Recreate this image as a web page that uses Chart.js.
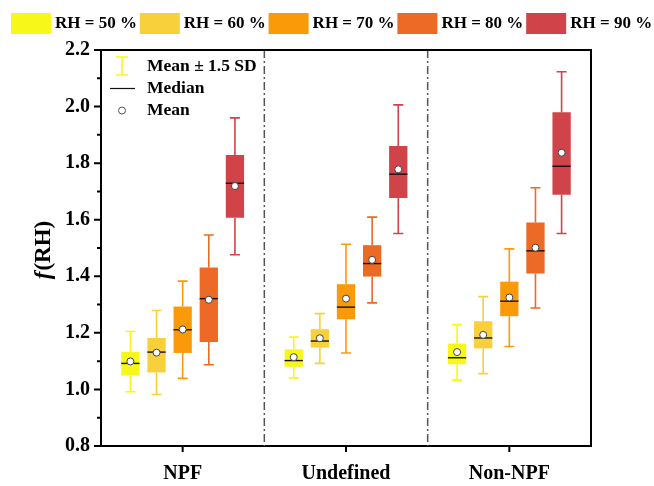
<!DOCTYPE html>
<html>
<head>
<meta charset="utf-8">
<script src="https://cdn.jsdelivr.net/npm/chart.js@4.4.1/dist/chart.umd.min.js"></script>
<style>
  html, body { margin: 0; padding: 0; background: #fff; }
  canvas { display: block; }
</style>
</head>
<body>
<canvas id="chart" width="654" height="486"></canvas>
<script>
// categories on the x axis
const categories = ['NPF', 'Undefined', 'Non-NPF'];
const rhLabels = ['RH = 50 %', 'RH = 60 %', 'RH = 70 %', 'RH = 80 %', 'RH = 90 %'];
const rhColors = ['#f8f71a', '#f8d03b', '#fa9a08', '#ec6a26', '#cf4349'];

// one row per RH level, columns follow categories
const q1 = [
  [1.049, 1.080, 1.089],
  [1.060, 1.148, 1.145],
  [1.129, 1.248, 1.259],
  [1.168, 1.399, 1.410],
  [1.607, 1.677, 1.688]
];
const q3 = [
  [1.133, 1.142, 1.162],
  [1.182, 1.213, 1.241],
  [1.293, 1.372, 1.381],
  [1.431, 1.510, 1.590],
  [1.829, 1.861, 1.980]
];
const medians = [
  [1.092, 1.102, 1.112],
  [1.132, 1.171, 1.182],
  [1.211, 1.291, 1.312],
  [1.321, 1.445, 1.490],
  [1.729, 1.761, 1.789]
];
const means = [
  [1.099, 1.114, 1.132],
  [1.130, 1.181, 1.193],
  [1.212, 1.321, 1.325],
  [1.317, 1.458, 1.501],
  [1.719, 1.778, 1.837]
];
// mean - 1.5 SD / mean + 1.5 SD
const whiskerLow = [
  [0.992, 1.041, 1.033],
  [0.982, 1.092, 1.056],
  [1.039, 1.129, 1.152],
  [1.087, 1.306, 1.288],
  [1.476, 1.551, 1.551]
];
const whiskerHigh = [
  [1.205, 1.185, 1.229],
  [1.279, 1.268, 1.328],
  [1.383, 1.513, 1.497],
  [1.546, 1.609, 1.713],
  [1.960, 2.006, 2.123]
];
const yTicks = [0.8, 1.0, 1.2, 1.4, 1.6, 1.8, 2.0, 2.2];

const serif = '"Liberation Serif", "Times New Roman", serif';

const boxExtras = {
  id: 'boxExtras',
  beforeDatasetsDraw(chart) {
    const ctx = chart.ctx, a = chart.chartArea, x = chart.scales.x;
    // dash-dot separators between the groups
    ctx.save();
    ctx.strokeStyle = '#555';
    ctx.lineWidth = 1.5;
    ctx.setLineDash([8, 3, 2, 3]);
    for (let i = 0; i < categories.length - 1; i++) {
      const px = (x.getPixelForValue(i) + x.getPixelForValue(i + 1)) / 2;
      ctx.beginPath();
      ctx.moveTo(px, a.top);
      ctx.lineTo(px, a.bottom);
      ctx.stroke();
    }
    ctx.restore();
  },
  afterDatasetsDraw(chart) {
    const ctx = chart.ctx, y = chart.scales.y;
    ctx.save();
    chart.data.datasets.forEach((ds, i) => {
      const meta = chart.getDatasetMeta(i);
      meta.data.forEach((bar, j) => {
        const cx = bar.x, half = bar.width / 2;
        const yHi = y.getPixelForValue(whiskerHigh[i][j]);
        const yLo = y.getPixelForValue(whiskerLow[i][j]);
        const yQ1 = y.getPixelForValue(q1[i][j]);
        const yQ3 = y.getPixelForValue(q3[i][j]);
        ctx.strokeStyle = rhColors[i];
        ctx.lineWidth = 1.6;
        ctx.beginPath();
        ctx.moveTo(cx, yQ3); ctx.lineTo(cx, yHi);
        ctx.moveTo(cx, yQ1); ctx.lineTo(cx, yLo);
        ctx.moveTo(cx - 5, yHi); ctx.lineTo(cx + 5, yHi);
        ctx.moveTo(cx - 5, yLo); ctx.lineTo(cx + 5, yLo);
        ctx.stroke();
        // median
        const yMed = y.getPixelForValue(medians[i][j]);
        ctx.strokeStyle = '#111';
        ctx.lineWidth = 1.4;
        ctx.beginPath();
        ctx.moveTo(cx - half, yMed); ctx.lineTo(cx + half, yMed);
        ctx.stroke();
        // mean
        const yMean = y.getPixelForValue(means[i][j]);
        ctx.fillStyle = '#fff';
        ctx.strokeStyle = '#444';
        ctx.lineWidth = 1;
        ctx.beginPath();
        ctx.arc(cx, yMean, 3.5, 0, Math.PI * 2);
        ctx.fill();
        ctx.stroke();
      });
    });
    ctx.restore();
  },
  afterDraw(chart) {
    const ctx = chart.ctx, a = chart.chartArea, x = chart.scales.x, y = chart.scales.y;
    ctx.save();
    // frame top and right
    ctx.strokeStyle = '#000';
    ctx.lineWidth = 2;
    ctx.beginPath();
    ctx.moveTo(a.left, a.top); ctx.lineTo(a.right, a.top); ctx.lineTo(a.right, a.bottom);
    ctx.stroke();
    // y ticks, major and minor
    ctx.lineWidth = 2;
    ctx.beginPath();
    yTicks.forEach((v, k) => {
      const py = y.getPixelForValue(v);
      ctx.moveTo(a.left, py); ctx.lineTo(a.left - 7, py);
      if (k < yTicks.length - 1) {
        const pm = y.getPixelForValue((v + yTicks[k + 1]) / 2);
        ctx.moveTo(a.left, pm); ctx.lineTo(a.left - 4, pm);
      }
    });
    // x ticks at group centres
    categories.forEach((c, i) => {
      const px = x.getPixelForValue(i);
      ctx.moveTo(px, a.bottom); ctx.lineTo(px, a.bottom + 6);
    });
    ctx.stroke();

    // y title f(RH)
    ctx.save();
    ctx.translate(44, (a.top + a.bottom) / 2 + 2);
    ctx.rotate(-Math.PI / 2);
    ctx.fillStyle = '#000';
    ctx.textBaseline = 'middle';
    ctx.font = 'italic bold 23px ' + serif;
    const fW = ctx.measureText('f').width;
    ctx.font = 'bold 23px ' + serif;
    const rW = ctx.measureText('(RH)').width;
    const start = -(fW + rW + 1) / 2;
    ctx.font = 'italic bold 23px ' + serif;
    ctx.fillText('f', start, 0);
    ctx.font = 'bold 23px ' + serif;
    ctx.fillText('(RH)', start + fW + 1, 0);
    ctx.restore();

    // top legend
    ctx.font = 'bold 17px ' + serif;
    ctx.textBaseline = 'middle';
    ctx.fillStyle = '#000';
    rhLabels.forEach((lab, i) => {
      const lx = 11 + i * 128.8;
      ctx.fillStyle = rhColors[i];
      ctx.fillRect(lx, 13, 40, 21);
      ctx.fillStyle = '#000';
      ctx.fillText(lab, lx + 44, 24);
    });

    // inner legend
    const ix = 122;
    ctx.strokeStyle = rhColors[0];
    ctx.lineWidth = 1.6;
    ctx.beginPath();
    ctx.moveTo(ix, 57); ctx.lineTo(ix, 75);
    ctx.moveTo(ix - 6, 57); ctx.lineTo(ix + 6, 57);
    ctx.moveTo(ix - 6, 75); ctx.lineTo(ix + 6, 75);
    ctx.stroke();
    ctx.strokeStyle = '#111';
    ctx.lineWidth = 1.2;
    ctx.beginPath();
    ctx.moveTo(110, 88.5); ctx.lineTo(135, 88.5);
    ctx.stroke();
    ctx.fillStyle = '#fff';
    ctx.strokeStyle = '#555';
    ctx.lineWidth = 1;
    ctx.beginPath();
    ctx.arc(ix, 110.5, 3.5, 0, Math.PI * 2);
    ctx.fill(); ctx.stroke();
    ctx.fillStyle = '#000';
    ctx.font = 'bold 17.5px ' + serif;
    ctx.fillText('Mean \u00b1 1.5 SD', 147, 66);
    ctx.fillText('Median', 147, 88);
    ctx.fillText('Mean', 147, 110);
    ctx.restore();
  }
};

const datasets = rhLabels.map((lab, i) => ({
  label: lab,
  data: categories.map((c, j) => [q1[i][j], q3[i][j]]),
  backgroundColor: rhColors[i],
  borderWidth: 0,
  borderSkipped: false,
  categoryPercentage: 0.8,
  barPercentage: 0.7
}));

new Chart(document.getElementById('chart'), {
  type: 'bar',
  data: { labels: categories, datasets: datasets },
  options: {
    responsive: false,
    animation: false,
    layout: { padding: { top: 50, right: 63, bottom: 0, left: 0 } },
    plugins: { legend: { display: false }, tooltip: { enabled: false } },
    scales: {
      x: {
        grid: { display: false, drawTicks: false },
        border: { color: '#000', width: 2 },
        ticks: { color: '#000', padding: 16, font: { family: serif, size: 20, weight: 'bold' } },
        afterFit: s => { s.height = 40; }
      },
      y: {
        min: 0.8,
        max: 2.2,
        grid: { display: false, drawTicks: false },
        border: { color: '#000', width: 2 },
        afterBuildTicks: s => { s.ticks = yTicks.map(v => ({ value: v })); },
        ticks: {
          color: '#000', padding: 11,
          font: { family: serif, size: 20, weight: 'bold' },
          callback: v => Number(v).toFixed(1)
        },
        afterFit: s => { s.width = 101; }
      }
    }
  },
  plugins: [boxExtras]
});
</script>
</body>
</html>
